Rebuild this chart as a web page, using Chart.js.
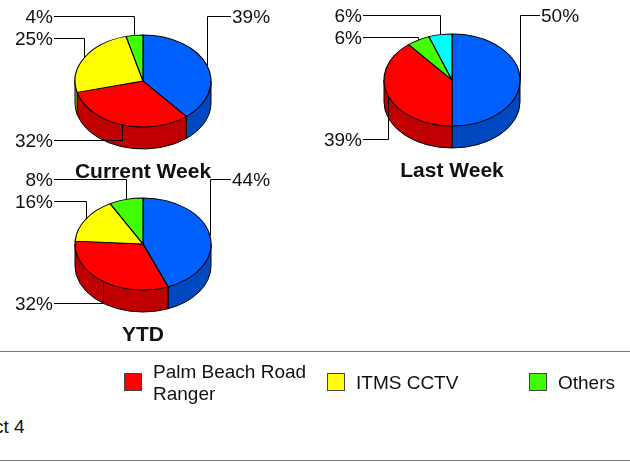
<!DOCTYPE html>
<html>
<head>
<meta charset="utf-8">
<script src="https://cdn.jsdelivr.net/npm/chart.js@4"></script>
<style>
  html, body { margin: 0; padding: 0; background: #fff; }
  body { position: relative; width: 630px; height: 462px; overflow: hidden; font-family: "Liberation Sans", Arial, sans-serif; color: #111; }
  .pie { position: absolute; width: 280px; height: 190px; }
  .rule { position: absolute; left: 0; width: 630px; height: 1px; background: #777; }
  .swatch { position: absolute; width: 18px; height: 18px; border: 1px solid #444; box-sizing: border-box; top: 373px; }
  .legend-text { position: absolute; font-size: 19px; line-height: 22px; }
</style>
</head>
<body>
<div class="pie" style="left:3px;top:5px"><canvas id="currentWeekChart"></canvas></div>
<div class="pie" style="left:312px;top:4px"><canvas id="lastWeekChart"></canvas></div>
<div class="pie" style="left:3px;top:168px"><canvas id="ytdChart"></canvas></div>

<div class="rule" style="top:351px"></div>
<div class="swatch" style="left:124px;background:#ff0000"></div>
<div class="legend-text" style="left:153px;top:361px;width:170px">Palm Beach Road Ranger</div>
<div class="swatch" style="left:327px;background:#ffff00"></div>
<div class="legend-text" style="left:356px;top:372px">ITMS CCTV</div>
<div class="swatch" style="left:529px;background:#40ff00"></div>
<div class="legend-text" style="left:558px;top:372px">Others</div>
<div class="legend-text" style="left:-6px;top:416px">ct 4</div>
<div class="rule" style="top:460px"></div>

<script>
// Slices run clockwise from 12 o'clock, blue and cyan names are cut off in the source
const categories = ['(cut off)', 'Palm Beach Road Ranger', 'ITMS CCTV', 'Others', '(cut off)'];
const currentWeek = [39, 32, 25, 4, 0];
const lastWeek = [50, 39, 0, 5.5, 5.5];
const ytd = [44, 32, 16, 8, 0];
const sliceColors = ['#0060ff', '#ff0000', '#ffff00', '#40ff00', '#00ffff'];
const wallColors = ['#0048c0', '#c00000', '#c0c000', '#30c000', '#00c0c0'];

const SQUASH = 46 / 68;
const DEPTH = 22;
const LABEL_FONT = '19px "Liberation Sans", Arial, sans-serif';

// Rim of the squashed pie at a given arc angle
function rimPoint(arc, angle) {
    return {
        x: arc.x + arc.outerRadius * Math.cos(angle),
        y: arc.y + arc.outerRadius * SQUASH * Math.sin(angle)
    };
}

/**
 * Fakes the 3D look: side walls under the pie, squashed slices, elbow leaders
 */
const tiltedPie = {
    id: 'tiltedPie',
    beforeDatasetsDraw(chart) {
        const ctx = chart.ctx;
        const arcs = chart.getDatasetMeta(0).data;
        const cx = arcs[0].x, cy = arcs[0].y;
        const rx = arcs[0].outerRadius, ry = rx * SQUASH;

        ctx.save();
        ctx.strokeStyle = '#000';
        ctx.lineWidth = 1;
        arcs.forEach((arc, i) => {
            const from = Math.max(arc.startAngle, 0);
            const to = Math.min(arc.endAngle, Math.PI);
            if (to <= from) return;
            ctx.beginPath();
            ctx.ellipse(cx, cy, rx, ry, 0, from, to);
            ctx.ellipse(cx, cy + DEPTH, rx, ry, 0, to, from, true);
            ctx.closePath();
            ctx.fillStyle = wallColors[i];
            ctx.fill();
            ctx.stroke();
        });
        ctx.restore();

        ctx.save();
        ctx.translate(cx, cy);
        ctx.scale(1, SQUASH);
        ctx.translate(-cx, -cy);
    },
    afterDatasetsDraw(chart) {
        const ctx = chart.ctx;
        ctx.restore();

        const values = chart.data.datasets[0].data;
        const arcs = chart.getDatasetMeta(0).data;
        const cx = arcs[0].x, cy = arcs[0].y;

        // Upper left slices stack their labels, last slice on the top row
        let upperLeftRow = 0;
        const rows = [];
        for (let i = arcs.length - 1; i >= 0; i--) {
            if (values[i] <= 0) continue;
            const mid = (arcs[i].startAngle + arcs[i].endAngle) / 2;
            const right = Math.cos(mid) > 0;
            const lower = Math.sin(mid) > 0;
            let rowY = -65;
            if (!right && lower) rowY = 59;
            if (!right && !lower) rowY = -65 + 22 * upperLeftRow++;
            rows[i] = { mid, right, rowY };
        }

        ctx.save();
        ctx.strokeStyle = '#000';
        ctx.lineWidth = 1;
        ctx.fillStyle = '#111';
        ctx.font = LABEL_FONT;
        ctx.textBaseline = 'middle';
        rows.forEach((row, i) => {
            if (!row) return;
            const rim = rimPoint(arcs[i], row.mid);
            const y = Math.round(cy + row.rowY) + 0.5;
            const x = Math.round(rim.x) + 0.5;
            const endX = cx + (row.right ? 88 : -89);
            ctx.beginPath();
            ctx.moveTo(x, rim.y);
            ctx.lineTo(x, y);
            ctx.lineTo(endX, y);
            ctx.stroke();
            ctx.textAlign = row.right ? 'left' : 'right';
            ctx.fillText(Math.round(values[i]) + '%', endX + (row.right ? 1 : -1), y + 1);
        });
        ctx.restore();
    }
};

function drawPie(canvasId, title, values) {
    return new Chart(document.getElementById(canvasId), {
        type: 'pie',
        data: {
            labels: categories,
            datasets: [{
                data: values,
                backgroundColor: sliceColors,
                borderColor: '#000',
                borderWidth: (c) => (c.raw > 0 ? 1.2 : 0),
                radius: 68
            }]
        },
        options: {
            responsive: true,
            maintainAspectRatio: false,
            animation: false,
            events: [],
            layout: { padding: { bottom: 10 } },
            plugins: {
                legend: { display: false },
                tooltip: { enabled: false },
                title: {
                    display: true,
                    text: title,
                    position: 'bottom',
                    color: '#111',
                    padding: { top: 3, bottom: 0 },
                    font: { family: '"Liberation Sans", Arial, sans-serif', size: 21, weight: 'bold', lineHeight: '25px' }
                }
            }
        },
        plugins: [tiltedPie]
    });
}

drawPie('currentWeekChart', 'Current Week', currentWeek);
drawPie('lastWeekChart', 'Last Week', lastWeek);
drawPie('ytdChart', 'YTD', ytd);
</script>
</body>
</html>
